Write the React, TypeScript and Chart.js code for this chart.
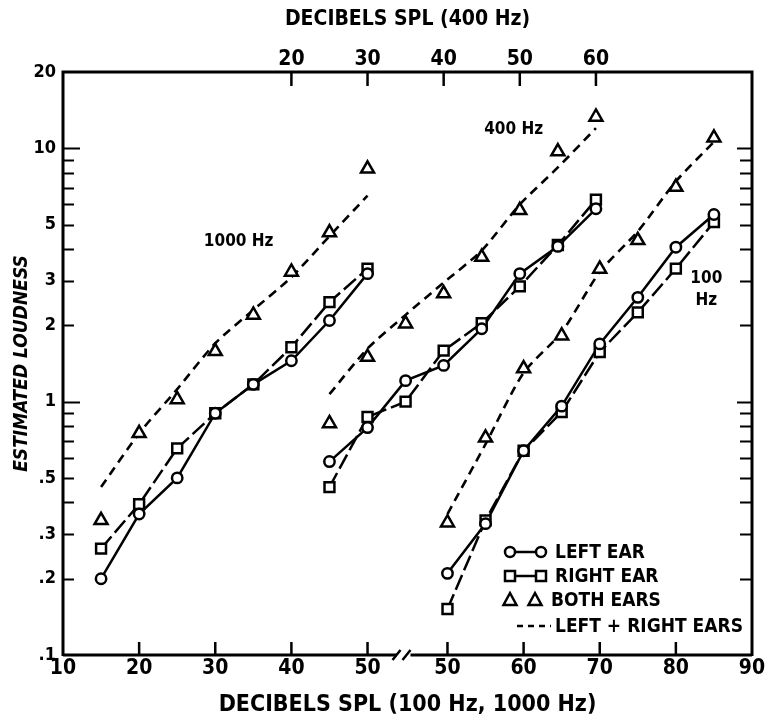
import { useEffect, useRef } from 'react';
import { Chart, registerables } from 'chart.js';
Chart.register(...registerables);

const FONT = "'DejaVu Sans Condensed', 'DejaVu Sans', sans-serif";

// ---- 1000 Hz (bottom axis, left part, dB SPL) ----
const DB_1000 = [15, 20, 25, 30, 35, 40, 45, 50];
const LEFT_1000 = [0.2, 0.36, 0.5, 0.9, 1.17, 1.45, 2.09, 3.2];
const RIGHT_1000 = [0.263, 0.394, 0.654, 0.9, 1.17, 1.64, 2.47, 3.35];
const BOTH_1000 = [0.34, 0.75, 1.02, 1.58, 2.2, 3.25, 4.65, 8.3];
const SUM_1000 = [0.46, 0.75, 1.12, 1.7, 2.3, 3.1, 4.5, 6.5];

// ---- 400 Hz (top axis, dB SPL) ----
const DB_400 = [25, 30, 35, 40, 45, 50, 55, 60];
const LEFT_400 = [0.58, 0.79, 1.21, 1.39, 1.94, 3.2, 4.1, 5.77];
const RIGHT_400 = [0.46, 0.87, 1.0, 1.59, 2.04, 2.85, 4.15, 6.27];
const BOTH_400 = [0.82, 1.5, 2.03, 2.67, 3.72, 5.69, 9.7, 13.3];
const SUM_400 = [1.07, 1.62, 2.2, 2.95, 3.95, 6.0, 8.4, 12.0];

// ---- 100 Hz (bottom axis, right part, dB SPL) ----
const DB_100 = [50, 55, 60, 65, 70, 75, 80, 85];
const LEFT_100 = [0.21, 0.33, 0.64, 0.96, 1.69, 2.58, 4.07, 5.48];
const RIGHT_100 = [0.152, 0.34, 0.64, 0.91, 1.57, 2.25, 3.35, 5.11];
const BOTH_100 = [0.333, 0.72, 1.35, 1.82, 3.34, 4.33, 7.03, 11.0];
const SUM_100 = [0.36, 0.68, 1.3, 1.88, 3.25, 4.7, 7.4, 10.6];

// ---- axes ----
const BOTTOM_LEFT_TICKS = [10, 20, 30, 40, 50];
const BOTTOM_RIGHT_TICKS = [50, 60, 70, 80, 90];
const TOP_TICKS = [20, 30, 40, 50, 60];
const Y_TICKS = [0.1, 0.2, 0.3, 0.5, 1, 2, 3, 5, 10, 20];
const Y_TICK_LABELS = ['.1', '.2', '.3', '.5', '1', '2', '3', '5', '10', '20'];
const Y_MARKS = [0.2, 0.3, 0.4, 0.5, 0.6, 0.7, 0.8, 0.9, 1, 2, 3, 4, 5, 6, 7, 8, 9, 10];
const Y_LONG_MARKS = [1, 10];

const BREAK_GAP = 10.5; // dB of axis skipped at the axis break
const TOP_SHIFT = 20;   // 400-Hz scale offset relative to the bottom scale

const LEGEND = ['LEFT EAR', 'RIGHT EAR', 'BOTH EARS', 'LEFT + RIGHT EARS'];

function pts(xs: number[], ys: number[]) {
  return xs.map((x, i) => ({ x, y: ys[i] }));
}

function group(xs: number[], l: number[], r: number[], b: number[], s: number[], axis: string) {
  const base = { xAxisID: axis, yAxisID: 'y', borderColor: '#000', pointBorderColor: '#000', pointBackgroundColor: '#fff', pointBorderWidth: 2.5 };
  return [
    { ...base, data: pts(xs, s), borderWidth: 2.6, borderDash: [9, 6], pointRadius: 0, tension: 0.25, order: 3 },
    { ...base, data: pts(xs, r), borderWidth: 2.5, borderDash: [16, 5], pointRadius: 0, order: 2 },
    { ...base, data: pts(xs, l), borderWidth: 2.5, pointRadius: 0, order: 2 },
    { ...base, data: pts(xs, r), showLine: false, pointStyle: 'rect', pointRadius: 7, order: 1 },
    { ...base, data: pts(xs, l), showLine: false, pointStyle: 'circle', pointRadius: 5.2, order: 0 },
    { ...base, data: pts(xs, b), showLine: false, pointStyle: 'triangle', pointRadius: 7.5, order: 0 },
  ];
}

const decor = {
  id: 'decor',
  afterDraw(chart: any) {
    const { ctx, chartArea, scales } = chart;
    const { left, right, top, bottom } = chartArea;
    const x = scales.x, y = scales.y, xt = scales.xTop, xr = scales.xR;
    ctx.save();
    ctx.strokeStyle = '#000';
    ctx.fillStyle = '#000';
    ctx.lineCap = 'butt';
    // frame (left, top, right)
    ctx.lineWidth = 3;
    ctx.beginPath();
    ctx.moveTo(left, bottom + 1);
    ctx.lineTo(left, top);
    ctx.lineTo(right, top);
    ctx.lineTo(right, bottom + 1);
    ctx.stroke();
    // broken bottom axis
    const c = (x.getPixelForValue(50) + x.getPixelForValue(50 + BREAK_GAP)) / 2 - 4;
    ctx.beginPath();
    ctx.moveTo(left, bottom);
    ctx.lineTo(c - 7, bottom);
    ctx.moveTo(c + 7, bottom);
    ctx.lineTo(right, bottom);
    ctx.stroke();
    ctx.lineWidth = 2.5;
    ctx.beginPath();
    ctx.moveTo(c - 11, bottom + 5); ctx.lineTo(c - 3, bottom - 5);
    ctx.moveTo(c - 1, bottom + 5); ctx.lineTo(c + 7, bottom - 5);
    ctx.stroke();
    // y tick marks, inward on both sides
    ctx.lineWidth = 2;
    for (const v of Y_MARKS) {
      const py = Math.round(y.getPixelForValue(v)) + 0.5;
      const len = Y_LONG_MARKS.includes(v) ? 17 : 11;
      ctx.beginPath();
      ctx.moveTo(left, py); ctx.lineTo(left + len, py);
      ctx.moveTo(right, py); ctx.lineTo(right - (Y_LONG_MARKS.includes(v) ? 15 : 12), py);
      ctx.stroke();
    }
    // bottom tick marks
    ctx.lineWidth = 2.5;
    const bt = [...BOTTOM_LEFT_TICKS.slice(1).map((v) => x.getPixelForValue(v)), ...BOTTOM_RIGHT_TICKS.slice(0, -1).map((v) => xr.getPixelForValue(v))];
    for (const px of bt) {
      ctx.beginPath(); ctx.moveTo(px, bottom); ctx.lineTo(px, bottom - 13); ctx.stroke();
    }
    for (const v of TOP_TICKS) {
      const px = xt.getPixelForValue(v);
      ctx.beginPath(); ctx.moveTo(px, top); ctx.lineTo(px, top + 14); ctx.stroke();
    }
    // curve labels
    ctx.font = `bold 17px ${FONT}`;
    ctx.textBaseline = 'middle';
    ctx.textAlign = 'left';
    ctx.fillText('1000 Hz', x.getPixelForValue(28.5), y.getPixelForValue(4.3));
    ctx.textAlign = 'center';
    ctx.fillText('400 Hz', xt.getPixelForValue(49.2), y.getPixelForValue(11.8));
    ctx.fillText('100', xr.getPixelForValue(84), y.getPixelForValue(3.05));
    ctx.fillText('Hz', xr.getPixelForValue(84), y.getPixelForValue(2.5));
    // legend
    const lx = right - 247, tx = right - 197;
    const rows = [bottom - 103, bottom - 79, bottom - 55, bottom - 29];
    ctx.lineWidth = 2.5;
    // row 1: circles
    ctx.beginPath(); ctx.moveTo(lx + 5, rows[0]); ctx.lineTo(lx + 36, rows[0]); ctx.stroke();
    for (const cx of [lx + 5, lx + 36]) {
      ctx.beginPath(); ctx.arc(cx, rows[0], 5, 0, Math.PI * 2); ctx.fillStyle = '#fff'; ctx.fill(); ctx.stroke();
    }
    // row 2: squares
    ctx.beginPath(); ctx.moveTo(lx + 5, rows[1]); ctx.lineTo(lx + 36, rows[1]); ctx.stroke();
    for (const cx of [lx + 5, lx + 36]) {
      ctx.fillStyle = '#fff'; ctx.fillRect(cx - 5, rows[1] - 5, 10, 10); ctx.strokeRect(cx - 5, rows[1] - 5, 10, 10);
    }
    // row 3: triangles
    for (const cx of [lx + 5, lx + 30]) {
      ctx.beginPath();
      ctx.moveTo(cx, rows[2] - 7); ctx.lineTo(cx + 6.5, rows[2] + 5); ctx.lineTo(cx - 6.5, rows[2] + 5); ctx.closePath();
      ctx.fillStyle = '#fff'; ctx.fill(); ctx.stroke();
    }
    // row 4: dashed
    ctx.setLineDash([6, 5]);
    ctx.beginPath(); ctx.moveTo(lx + 12, rows[3]); ctx.lineTo(lx + 46, rows[3]); ctx.stroke();
    ctx.setLineDash([]);
    ctx.fillStyle = '#000';
    ctx.textAlign = 'left';
    ctx.font = `bold 19px ${FONT}`;
    LEGEND.forEach((t, i) => ctx.fillText(t, i === 2 ? tx - 4 : tx, rows[i] + 1));
    ctx.restore();
  },
};

export default function App() {
  const ref = useRef<HTMLCanvasElement>(null);
  useEffect(() => {
    const tickFont = (size: number) => ({ family: FONT, size, weight: 'bold' as const });
    const chart = new Chart(ref.current!, {
      type: 'line',
      data: {
        datasets: [
          ...group(DB_1000, LEFT_1000, RIGHT_1000, BOTH_1000, SUM_1000, 'x'),
          ...group(DB_400, LEFT_400, RIGHT_400, BOTH_400, SUM_400, 'xTop'),
          ...group(DB_100, LEFT_100, RIGHT_100, BOTH_100, SUM_100, 'xR'),
        ] as any,
      },
      options: {
        responsive: false,
        animation: false,
        devicePixelRatio: 1,
        layout: { padding: { left: 0, top: 0, right: 18, bottom: 0 } },
        plugins: { legend: { display: false }, tooltip: { enabled: false } },
        elements: { line: { borderCapStyle: 'butt' } },
        scales: {
          x: {
            type: 'linear',
            position: 'bottom',
            min: 10,
            max: 90 + BREAK_GAP,
            afterBuildTicks: (s: any) => {
              s.ticks = [
                ...BOTTOM_LEFT_TICKS.map((v) => ({ value: v })),
                ...BOTTOM_RIGHT_TICKS.map((v) => ({ value: v + BREAK_GAP })),
              ];
            },
            afterFit: (s: any) => { s.height = 69; },
            ticks: {
              autoSkip: false, maxRotation: 0, padding: 1, color: '#000', font: tickFont(21),
              callback: (v: any) => (v > 50 ? String(Math.round(v - BREAK_GAP)) : String(v)),
            },
            grid: { display: false, drawTicks: false },
            border: { display: false },
            title: { display: true, text: 'DECIBELS SPL (100 Hz, 1000 Hz)', color: '#000', font: tickFont(23), padding: { top: 0, bottom: 5 } },
          },
          xR: { type: 'linear', display: false, min: 10 - BREAK_GAP, max: 90 },
          xTop: {
            type: 'linear',
            position: 'top',
            min: 10 - TOP_SHIFT,
            max: 90 + BREAK_GAP - TOP_SHIFT,
            afterBuildTicks: (s: any) => { s.ticks = TOP_TICKS.map((v) => ({ value: v })); },
            afterFit: (s: any) => { s.height = 72; },
            ticks: { autoSkip: false, maxRotation: 0, padding: 0, color: '#000', font: tickFont(21) },
            grid: { display: false, drawTicks: false },
            border: { display: false },
            title: { display: true, text: 'DECIBELS SPL (400 Hz)', color: '#000', font: tickFont(21), padding: { top: 7, bottom: 0 } },
          },
          y: {
            type: 'logarithmic',
            position: 'left',
            min: 0.1,
            max: 20,
            afterBuildTicks: (s: any) => { s.ticks = Y_TICKS.map((v) => ({ value: v })); },
            afterFit: (s: any) => { s.width = 63; },
            ticks: {
              autoSkip: false, padding: 7, color: '#000', font: tickFont(18),
              callback: (v: any) => {
                const i = Y_TICKS.findIndex((t) => Math.abs(t - v) < 1e-9);
                return i >= 0 ? Y_TICK_LABELS[i] : '';
              },
            },
            grid: { display: false, drawTicks: false },
            border: { display: false },
            title: { display: true, text: 'ESTIMATED LOUDNESS', color: '#000', font: { family: FONT, size: 19, weight: 'bold', style: 'italic' }, padding: { top: 11, bottom: 0 } },
          },
        },
      } as any,
      plugins: [decor],
    });
    return () => chart.destroy();
  }, []);
  return (
    <div style={{ position: 'absolute', left: 0, top: 0, width: 770, height: 724, background: '#fff' }}>
      <canvas ref={ref} width={770} height={724} style={{ display: 'block', width: 770, height: 724 }} />
    </div>
  );
}
